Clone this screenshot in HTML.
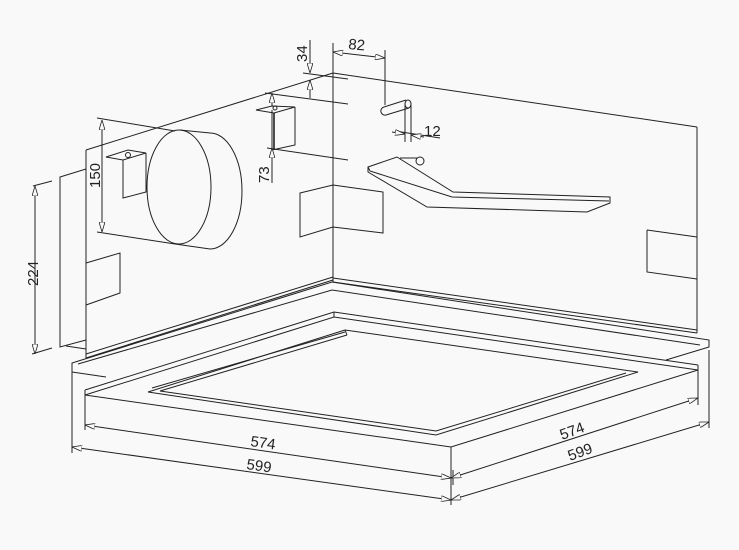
<!DOCTYPE html>
<html><head><meta charset="utf-8"><style>
html,body{margin:0;padding:0;background:#f9f9f9}
svg{display:block}
text{font-family:"Liberation Sans Narrow","Liberation Sans",sans-serif;font-size:15px;fill:#222}
</style></head><body>
<svg width="739" height="550" viewBox="0 0 739 550" xmlns="http://www.w3.org/2000/svg">
<defs>
<marker id="a" viewBox="0 0 10 6" refX="10" refY="3" markerWidth="10" markerHeight="6" orient="auto-start-reverse" markerUnits="userSpaceOnUse">
<path d="M0,0 L10,3 L0,6 Z" fill="#f9f9f9" stroke="#222" stroke-width="0.8"/>
</marker>
</defs>
<rect width="739" height="550" fill="#f9f9f9"/>
<g fill="none" stroke="#222" stroke-width="1">
<!-- main box -->
<line x1="86" y1="150" x2="333" y2="73"/>
<line x1="86" y1="150" x2="86" y2="358"/>
<line x1="333" y1="43" x2="333" y2="282"/>
<line x1="333" y1="73" x2="697" y2="127"/>
<line x1="697" y1="127" x2="697" y2="333"/>
<line x1="86" y1="358" x2="333" y2="280"/>
<line x1="86" y1="354" x2="333" y2="277"/>
<line x1="333" y1="282" x2="697" y2="333"/>
<line x1="333" y1="278" x2="697" y2="330"/>
<!-- left back panel -->
<polyline points="86,169 60,177 60,347 86,340"/>
<line x1="66" y1="346" x2="86" y2="349"/>
<polygon points="86,263 120,253 120,293 86,305"/>
<!-- cylinder -->
<ellipse cx="179" cy="187" rx="32" ry="57"/>
<path d="M210,133 A32,58 0 0 1 210,249"/>
<line x1="180" y1="130" x2="210" y2="133"/>
<line x1="175" y1="244" x2="210" y2="249"/>
<!-- brackets -->
<polygon points="106,157 128,150 146,153 123,160"/>
<polyline points="123,160 123,198 146,192 146,153"/>
<circle cx="128" cy="155" r="2.5"/>
<polygon points="256,110 272,106 295,107 274,113"/>
<polyline points="272,110 272,150 295,145 295,107"/>
<line x1="274" y1="113" x2="274" y2="150" stroke-width="1.6"/>
<circle cx="275" cy="108" r="2"/>
<!-- rects -->
<polygon points="300,193 333,185 333,227 300,237"/>
<polyline points="333,185 383,192 383,233 333,227"/>
<polyline points="647,230 697,237"/>
<polyline points="697,279 647,272 647,230"/>
<!-- pipe stub -->
<path d="M406,100 L384,107 A3.5,3.5 0 0 0 386,115 L409,108"/>
<ellipse cx="408" cy="104" rx="3" ry="4"/>
<line x1="405" y1="104" x2="405" y2="142"/>
<line x1="411" y1="104" x2="411" y2="142"/>
<!-- drain pan -->
<polygon points="368,167 397,157 453,192 610,197 610,203 587,212 427,207 368,172"/>
<polyline points="368,167 370,171 452,197 609,201"/>
<path d="M400,158 L417,158"/>
<circle cx="420" cy="161" r="4"/>
<!-- outer plate -->
<polyline points="72,372 72,363 332,282 709,340 709,347 666,360"/>
<polyline points="72,372 106,377"/>
<polyline points="78,364 332,290 700,345"/>
<!-- frame 574 -->
<polyline points="85,390 334,312 698,365"/>
<polyline points="85,395 334,317 698,370"/>
<line x1="85" y1="390" x2="85" y2="395"/>
<line x1="698" y1="365" x2="698" y2="370"/>
<polyline points="85,395 451,447 698,370"/>
<line x1="334" y1="312" x2="334" y2="317"/>
<!-- inner recess -->
<polygon points="345,330 148,392 436,435 638,372"/>
<polyline points="347,335 160,391 436,431 626,373"/>
<line x1="345" y1="330" x2="347" y2="335"/>
<line x1="152" y1="388" x2="345" y2="332"/>
<!-- dimension extension lines -->
<line x1="72" y1="372" x2="72" y2="453"/>
<line x1="85" y1="395" x2="85" y2="430"/>
<line x1="451" y1="447" x2="451" y2="505"/>
<line x1="453" y1="470" x2="453" y2="485"/>
<line x1="698" y1="370" x2="698" y2="405"/>
<line x1="709" y1="350" x2="709" y2="428"/>
<line x1="97" y1="118" x2="175" y2="131"/>
<line x1="97" y1="232" x2="175" y2="244"/>
<line x1="33" y1="186" x2="52" y2="181"/>
<line x1="32" y1="354" x2="52" y2="348"/>
<line x1="303" y1="73" x2="348" y2="79"/>
<line x1="265" y1="93" x2="348" y2="104"/>
<line x1="267" y1="148" x2="348" y2="160"/>
<line x1="385" y1="50" x2="385" y2="105"/>
<line x1="395" y1="131" x2="440" y2="138"/>
</g>
<g fill="none" stroke="#222" stroke-width="1">
<line x1="85" y1="425" x2="451" y2="478" marker-start="url(#a)" marker-end="url(#a)"/>
<line x1="72" y1="447" x2="451" y2="500" marker-start="url(#a)" marker-end="url(#a)"/>
<line x1="451" y1="478" x2="698" y2="398" marker-start="url(#a)" marker-end="url(#a)"/>
<line x1="451" y1="500" x2="709" y2="422" marker-start="url(#a)" marker-end="url(#a)"/>
<line x1="102" y1="120" x2="102" y2="232" marker-start="url(#a)" marker-end="url(#a)"/>
<line x1="35" y1="186" x2="35" y2="354" marker-start="url(#a)" marker-end="url(#a)"/>
<line x1="310" y1="40" x2="310" y2="73" marker-end="url(#a)"/>
<line x1="310" y1="98" x2="310" y2="80" marker-end="url(#a)"/>
<line x1="272" y1="93" x2="272" y2="106" marker-start="url(#a)"/>
<line x1="272" y1="183" x2="272" y2="148" marker-end="url(#a)"/>
<line x1="333" y1="52" x2="385" y2="58" marker-start="url(#a)" marker-end="url(#a)"/>
<line x1="392" y1="132" x2="405" y2="134" marker-end="url(#a)"/>
<line x1="424" y1="137" x2="411" y2="135" marker-end="url(#a)"/>
</g>
<g>
<text transform="translate(250,446) rotate(8)" font-size="16">574</text>
<text transform="translate(246,469) rotate(8)" font-size="16">599</text>
<text transform="translate(562,440) rotate(-20)" font-size="15">574</text>
<text transform="translate(570,461) rotate(-20)" font-size="15">599</text>
<text transform="translate(100,188) rotate(-90)" font-size="16">150</text>
<text transform="translate(38,286) rotate(-90)" font-size="16">224</text>
<text transform="translate(307,62) rotate(-90)" font-size="15">34</text>
<text transform="translate(269,183) rotate(-90)" font-size="15">73</text>
<text transform="translate(348,49) rotate(5)" font-size="15">82</text>
<text transform="translate(424,136)" font-size="15">12</text>
</g>
</svg>
</body></html>
